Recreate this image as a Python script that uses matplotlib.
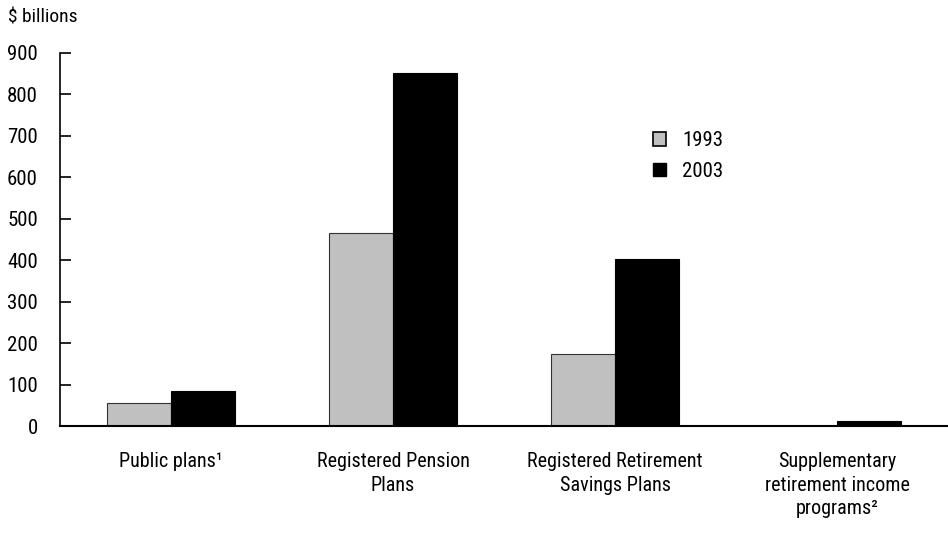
import numpy as np
import matplotlib as mpl; mpl.use('Agg')
import matplotlib.pyplot as plt
from matplotlib.patches import Patch

mpl.rcParams.update({'font.family': ['Roboto Condensed', 'DejaVu Sans'], 'font.size': 15,
                     'font.weight': 'normal'})

categories = ['Public plans\u00b9', 'Registered Pension\nPlans', 'Registered Retirement\nSavings Plans',
              'Supplementary\nretirement income\nprograms\u00b2']
vals_1993 = [55, 466, 174, 0]
vals_2003 = [84, 851, 403, 11]
years = ['1993', '2003']
yticks = list(range(0, 1000, 100))

GREY = '#c0c0c0'; BLACK = '#000000'

fig = plt.figure(figsize=(9.48, 5.33), dpi=100)
ax = fig.add_axes([0.0633, 0.2007, 0.9367, 0.6999])

x = np.arange(len(categories)); w = 0.288
ax.bar(x - w / 2, vals_1993, w, color=GREY, edgecolor='#333333', linewidth=0.8)
ax.bar(x + w / 2, vals_2003, w, color=BLACK, edgecolor=BLACK, linewidth=0.8)

ax.set_xlim(-0.5, 3.5); ax.set_ylim(0, 900)
ax.set_yticks(yticks)
ax.tick_params(axis='y', direction='in', length=8, width=1.2, pad=16, labelsize=15)
ax.set_xticks(x); ax.set_xticklabels(categories, linespacing=1.3)
ax.tick_params(axis='x', length=0, pad=19, labelsize=14.5)
for s in ['top', 'right']:
    ax.spines[s].set_visible(False)
ax.spines['left'].set_linewidth(1.2); ax.spines['bottom'].set_linewidth(1.5)

fig.text(0.008, 0.967, '$ billions', fontsize=14, va='center')

handles = [Patch(facecolor=GREY, edgecolor=BLACK, linewidth=1.2), Patch(facecolor=BLACK, edgecolor=BLACK)]
ax.legend(handles, years, loc='upper left', bbox_to_anchor=(0.647, 0.84), frameon=False,
          handlelength=0.6, handleheight=0.6, handletextpad=0.8, labelspacing=0.55, fontsize=15)

fig.savefig('out.png', dpi=100)
